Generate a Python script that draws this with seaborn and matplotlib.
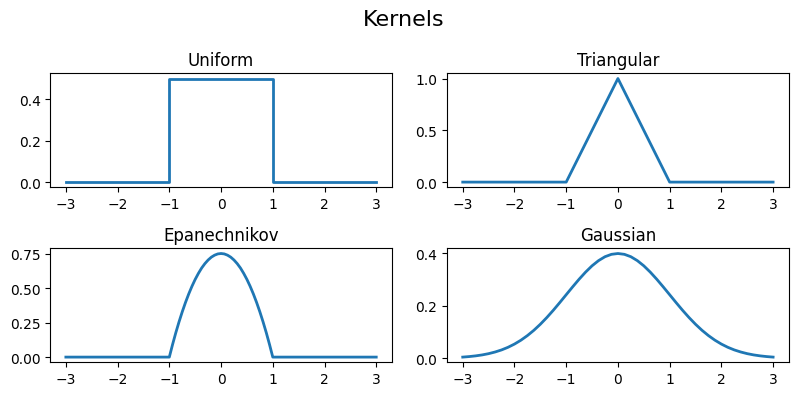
import numpy as np
import matplotlib
matplotlib.use("Agg")
import matplotlib.pyplot as plt
import seaborn as sns

# values
uniform_x = [-3, -1, -1, 1, 1, 3]
uniform_y = [0, 0, 0.5, 0.5, 0, 0]

triangular_x = [-3, -1, 0, 1, 3]
triangular_y = [0, 0, 1.0, 0, 0]

epan_half_x = [0, 0.0625, 0.125, 0.1875, 0.25, 0.3125, 0.375, 0.4375, 0.5,
               0.5625, 0.625, 0.6875, 0.75, 0.8125, 0.875, 0.9375, 1, 3]
epan_half_y = [0.75, 0.7471, 0.738, 0.7236, 0.703, 0.6768, 0.645, 0.6064, 0.5625,
               0.5127, 0.457, 0.3955, 0.328, 0.2549, 0.176, 0.0908, 0, 0]

gauss_half_x = [0, 0.125, 0.25, 0.375, 0.5, 0.625, 0.75, 0.875, 1, 1.125, 1.25,
                1.375, 1.5, 1.625, 1.75, 1.875, 2, 2.125, 2.25, 2.375, 2.5,
                2.625, 2.75, 2.875, 3]
gauss_half_y = [0.3989, 0.3958, 0.3867, 0.3718, 0.3521, 0.3281, 0.3011, 0.272,
                0.242, 0.2119, 0.1826, 0.155, 0.1295, 0.1065, 0.0863, 0.0688,
                0.054, 0.0417, 0.0317, 0.0238, 0.0175, 0.0127, 0.0091, 0.0064,
                0.0044]

# kernels are symmetric: mirror the right half
epan_x = [-v for v in epan_half_x[::-1]] + epan_half_x[1:]
epan_y = epan_half_y[::-1] + epan_half_y[1:]
gauss_x = [-v for v in gauss_half_x[::-1]] + gauss_half_x[1:]
gauss_y = gauss_half_y[::-1] + gauss_half_y[1:]

panels = [("Uniform", uniform_x, uniform_y),
          ("Triangular", triangular_x, triangular_y),
          ("Epanechnikov", epan_x, epan_y),
          ("Gaussian", gauss_x, gauss_y)]

fig, axes = plt.subplots(2, 2, figsize=(8, 4), dpi=100)
for ax, (name, xs, ys) in zip(axes.flat, panels):
    sns.lineplot(x=xs, y=ys, ax=ax, color="#1f77b4", linewidth=2,
                 estimator=None, sort=False)
    ax.set_title(name)
    ax.set_xticks(range(-3, 4))

fig.suptitle("Kernels", fontsize=16)
plt.tight_layout()
plt.savefig("out.png", dpi=100, bbox_inches="tight")
